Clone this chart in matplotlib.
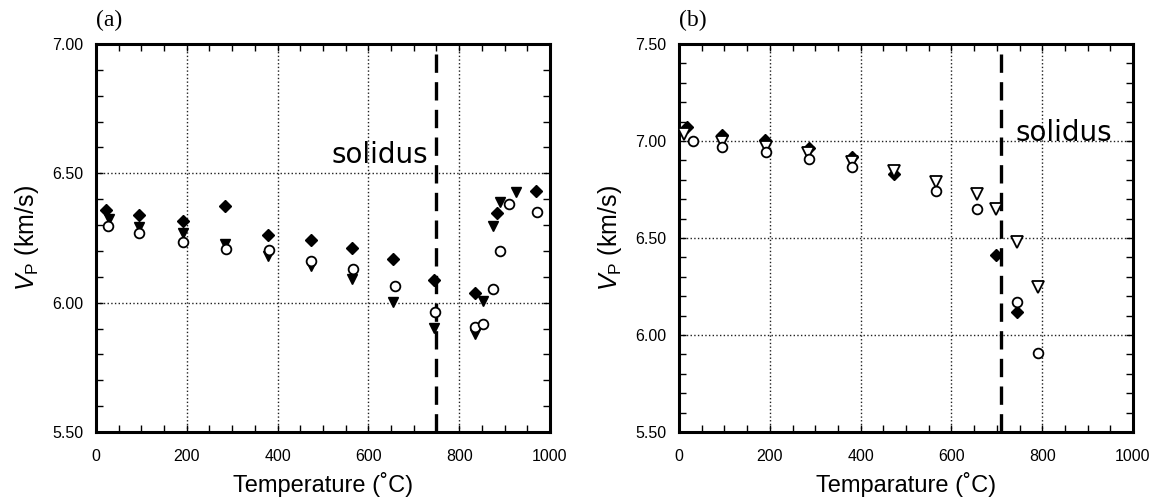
import numpy as np
import matplotlib
matplotlib.use("Agg")
import matplotlib.pyplot as plt
from matplotlib.ticker import MultipleLocator, FormatStrFormatter

# (a) 数据
a_dia_t = [23, 95, 191, 285, 380, 473, 565, 655, 745, 834, 883, 970]
a_dia_v = [6.358, 6.338, 6.316, 6.374, 6.260, 6.243, 6.210, 6.169, 6.086, 6.036, 6.346, 6.433]
a_tri_t = [29, 95, 191, 285, 380, 473, 565, 655, 745, 834, 853, 874, 890, 925]
a_tri_v = [6.325, 6.293, 6.268, 6.227, 6.179, 6.140, 6.091, 6.004, 5.903, 5.880, 6.005, 6.295, 6.390, 6.426]
a_cir_t = [26, 95, 192, 286, 382, 474, 566, 658, 747, 835, 853, 874, 889, 910, 971]
a_cir_v = [6.296, 6.270, 6.234, 6.208, 6.205, 6.162, 6.130, 6.066, 5.962, 5.906, 5.916, 6.054, 6.199, 6.382, 6.351]
a_solidus = 750

# (b) 数据
b_dia_t = [18, 95, 190, 286, 380, 473, 698, 745]
b_dia_v = [7.071, 7.031, 7.005, 6.962, 6.916, 6.828, 6.414, 6.121]
b_tri_t = [10, 95, 191, 285, 380, 473, 565, 657, 698, 745, 790]
b_tri_v = [7.036, 6.993, 6.967, 6.936, 6.893, 6.845, 6.790, 6.729, 6.647, 6.479, 6.247]
b_cir_t = [31, 95, 191, 287, 382, 565, 657, 745, 790]
b_cir_v = [7.000, 6.971, 6.941, 6.907, 6.867, 6.743, 6.647, 6.169, 5.905]
b_solidus = 710

plt.rcParams['font.family'] = ['Liberation Sans', 'DejaVu Sans']
plt.rcParams['mathtext.fontset'] = 'custom'
plt.rcParams['mathtext.rm'] = 'Liberation Sans'
plt.rcParams['mathtext.it'] = 'Liberation Sans:italic'


def style_axes(ax, ylim, xlabel, panel, solidus, text_xy, text_ha):
    ax.set_xlim(0, 1000)
    ax.set_ylim(*ylim)
    ax.xaxis.set_major_locator(MultipleLocator(200))
    ax.xaxis.set_minor_locator(MultipleLocator(50))
    ax.yaxis.set_major_locator(MultipleLocator(0.5))
    ax.yaxis.set_minor_locator(MultipleLocator(0.1))
    ax.yaxis.set_major_formatter(FormatStrFormatter('%.2f'))
    ax.tick_params(which='both', direction='in', top=True, right=True,
                   length=5, width=1)
    ax.tick_params(axis='x', labelsize=11.5, pad=12)
    ax.tick_params(axis='y', labelsize=11.5, pad=9)
    for s in ax.spines.values():
        s.set_linewidth(2.2)
    ax.grid(True, which='major', ls=':', color='#202020', lw=1)
    ax.axvline(solidus, color='k', lw=2.4, ls=(0, (5.5, 2.8)), zorder=4)
    ax.text(text_xy[0], text_xy[1], 'solidus', fontsize=20, ha=text_ha,
            va='center', family='DejaVu Sans', zorder=5)
    ax.set_xlabel(xlabel, fontsize=17, labelpad=6)
    ax.set_ylabel(r'$V_\mathrm{P}$ (km/s)', fontsize=18, labelpad=8)
    ax.text(0.0, 1.06, panel, transform=ax.transAxes, fontsize=17,
            family='Liberation Serif', ha='left', va='center')


fig = plt.figure(figsize=(11.58, 5.0), dpi=100)
ax1 = fig.add_axes([0.0829, 0.136, 0.392, 0.776])
ax2 = fig.add_axes([0.5864, 0.136, 0.392, 0.776])

ms = 7.5
ax1.plot(a_tri_t, a_tri_v, 'v', color='k', ms=ms, zorder=6)
ax1.plot(a_dia_t, a_dia_v, 'D', color='k', ms=ms - 1.5, zorder=6)
ax1.plot(a_cir_t, a_cir_v, 'o', mfc='white', mec='k', mew=1.3, ms=ms - 0.5, zorder=6)
style_axes(ax1, (5.5, 7.0), 'Temperature (˚C)', '(a)', a_solidus, (732, 6.57), 'right')

ax2.plot(b_dia_t, b_dia_v, 'D', color='k', ms=ms - 1.5, zorder=6)
ax2.plot(b_tri_t, b_tri_v, 'v', mfc='white', mec='k', mew=1.3, ms=ms + 0.5, zorder=6)
ax2.plot(b_cir_t, b_cir_v, 'o', mfc='white', mec='k', mew=1.3, ms=ms - 0.5, zorder=6)
style_axes(ax2, (5.5, 7.5), 'Temparature (˚C)', '(b)', b_solidus, (742, 7.04), 'left')

fig.savefig('out.png', dpi=100)
